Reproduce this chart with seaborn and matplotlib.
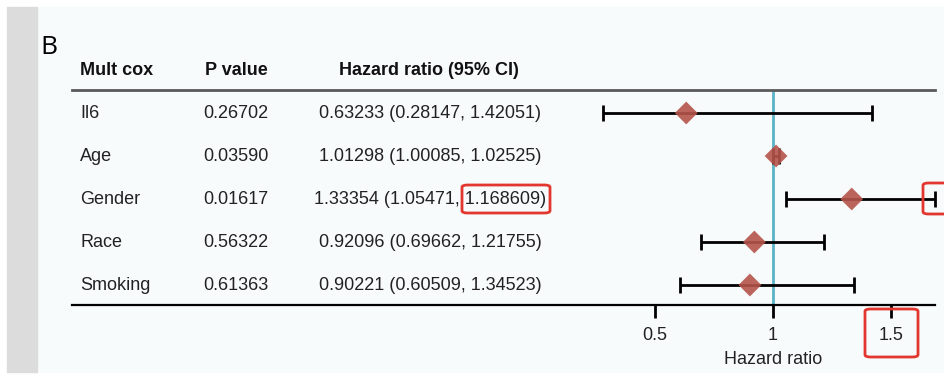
import numpy as np
import pandas as pd
import matplotlib.pyplot as plt
import matplotlib.transforms as mtransforms
from matplotlib.patches import Rectangle, FancyBboxPatch
import seaborn as sns

# Data
variables = ['Il6', 'Age', 'Gender', 'Race', 'Smoking']
p_values = ['0.26702', '0.03590', '0.01617', '0.56322', '0.61363']
hr_text = ['0.63233 (0.28147, 1.42051)',
           '1.01298 (1.00085, 1.02525)',
           '1.33354 (1.05471, 1.168609)',
           '0.92096 (0.69662, 1.21755)',
           '0.90221 (0.60509, 1.34523)']
hr = [0.63233, 1.01298, 1.33354, 0.92096, 0.90221]
ci_low = [0.28147, 1.00085, 1.05471, 0.69662, 0.60509]
ci_high = [1.42051, 1.02525, 1.68609, 1.21755, 1.34523]
xticks = [0.5, 1, 1.5]
xtick_labels = ['0.5', '1', '1.5']

df = pd.DataFrame({'var': variables, 'hr': hr, 'lo': ci_low, 'hi': ci_high,
                   'row': np.arange(len(variables))})

sns.set_style('white')
plt.rcParams['font.family'] = ['Liberation Sans', 'DejaVu Sans']

W, H = 944, 374
fig = plt.figure(figsize=(W / 100, H / 100), dpi=100)
fig.patch.set_facecolor('white')

# background panel + grey strip on the left
fig.add_artist(Rectangle((37 / W, 1 - 372 / H), (W - 37) / W, 365 / H,
                         transform=fig.transFigure, color='#f8fbfc', zorder=0))
fig.add_artist(Rectangle((7 / W, 1 - 372 / H), 30 / W, 365 / H,
                         transform=fig.transFigure, color='#dcdcdc', zorder=0))

# px -> value mapping: 1 at x=773, 236 px per unit
px_per = 236.0
x0 = 1 + (72 - 773) / px_per
x1 = 1 + (935 - 773) / px_per

ax = fig.add_axes([72 / W, 1 - 305 / H, (935 - 72) / W, (305 - 90) / H])
ax.set_facecolor('none')
ax.set_xlim(x0, x1)
ax.set_ylim(4.465, -0.535)

ax.axvline(1, color='#5ab3c7', lw=2, zorder=1)
ax.errorbar(df['hr'], df['row'], xerr=[df['hr'] - df['lo'], df['hi'] - df['hr']],
            fmt='none', ecolor='black', elinewidth=2, capsize=6, capthick=2,
            zorder=2, clip_on=False)
sns.scatterplot(data=df, x='hr', y='row', marker='D', s=135, color='#b5544a',
                alpha=0.9, edgecolor='none', zorder=3, ax=ax, legend=False)

for side in ['left', 'right']:
    ax.spines[side].set_visible(False)
ax.spines['top'].set_color('#5a5a5a')
ax.spines['top'].set_linewidth(2)
ax.spines['bottom'].set_color('black')
ax.spines['bottom'].set_linewidth(1.6)

ax.set_yticks([])
ax.set_xticks(xticks)
ax.set_xticklabels(xtick_labels, fontsize=13, color='#222222')
ax.tick_params(axis='x', bottom=True, length=9.5, width=2, color='black', pad=6,
               direction='out')
ax.set_xlabel('Hazard ratio', fontsize=13, color='#222222')
ax.xaxis.set_label_coords((773 - 72) / (935 - 72), -0.215)
ax.set_ylabel('')

# table text
tr = mtransforms.blended_transform_factory(fig.transFigure, ax.transData)
hdr_y = -1.0
ax.text(80 / W, hdr_y, 'Mult cox', transform=tr, ha='left', va='center',
        fontsize=13, fontweight='bold', color='#111111', clip_on=False)
ax.text(205 / W, hdr_y, 'P value', transform=tr, ha='left', va='center',
        fontsize=13, fontweight='bold', color='#111111', clip_on=False)
ax.text(429 / W, hdr_y, 'Hazard ratio (95% CI)', transform=tr, ha='center', va='center',
        fontsize=13, fontweight='bold', color='#111111', clip_on=False)
for i in range(len(variables)):
    ax.text(80 / W, i, variables[i], transform=tr, ha='left', va='center',
            fontsize=13, color='#222222', clip_on=False)
    ax.text(203 / W, i, p_values[i], transform=tr, ha='left', va='center',
            fontsize=13, color='#222222', clip_on=False)
    ax.text(430 / W, i, hr_text[i], transform=tr, ha='center', va='center',
            fontsize=13, color='#222222', clip_on=False)

# panel letter
fig.text(40 / W, 1 - 47 / H, 'B', fontsize=19, ha='left', va='center', color='black',
         family='Open Sans')

# red highlight boxes
def red_box(xa, ya, xb, yb):
    fig.add_artist(FancyBboxPatch((xa / W, 1 - yb / H), (xb - xa) / W, (yb - ya) / H,
                                  boxstyle='round,pad=0,rounding_size=0.006',
                                  transform=fig.transFigure, fill=False,
                                  edgecolor='#e2372f', lw=2, zorder=5))

red_box(462, 185, 550, 213)
red_box(923, 183, 950, 214)
red_box(865, 309, 918, 357)

fig.savefig('out.png', dpi=100, facecolor=fig.get_facecolor())
